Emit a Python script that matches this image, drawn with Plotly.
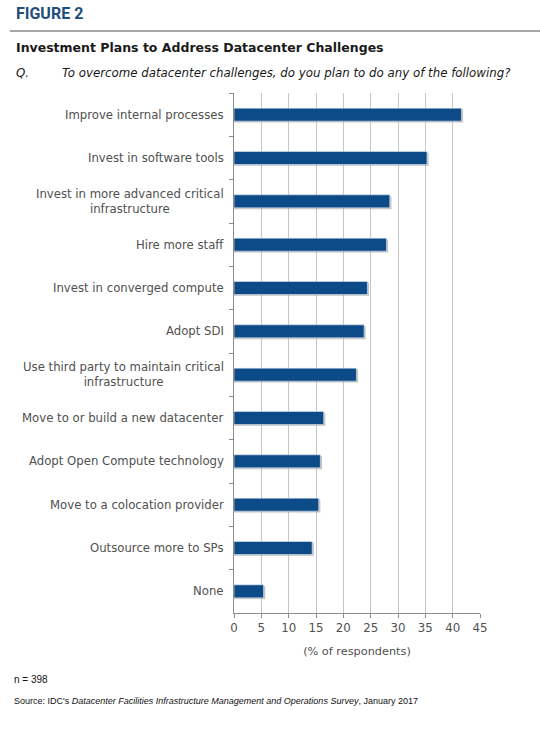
import plotly.graph_objects as go

categories = [
    "Improve internal processes",
    "Invest in software tools",
    "Invest in more advanced critical<br>infrastructure",
    "Hire more staff",
    "Invest in converged compute",
    "Adopt SDI",
    "Use third party to maintain critical<br>infrastructure",
    "Move to or build a new datacenter",
    "Adopt Open Compute technology",
    "Move to a colocation provider",
    "Outsource more to SPs",
    "None",
]
values = [41.6, 35.3, 28.5, 27.9, 24.4, 23.8, 22.4, 16.4, 15.8, 15.5, 14.3, 5.4]
x_ticks = [0, 5, 10, 15, 20, 25, 30, 35, 40, 45]

BLUE = "#0c4a88"
GREY_TXT = "#505050"

fig = go.Figure()

# soft drop shadow under each bar
fig.add_trace(go.Bar(
    y=categories, x=[v + 0.3 for v in values], orientation="h",
    width=0.3, offset=-0.12,
    marker=dict(color="rgba(120,120,120,0.45)", line=dict(width=0)),
    hoverinfo="skip", showlegend=False,
))

fig.add_trace(go.Bar(
    y=categories, x=values, orientation="h",
    width=0.3, offset=-0.15,
    marker=dict(color=BLUE, line=dict(color="#dce6f2", width=0.6)),
    showlegend=False,
    hovertemplate="%{y}: %{x}%<extra></extra>",
))

# category labels as annotations so wrapped lines sit centred
for cat in categories:
    fig.add_annotation(
        xref="paper", yref="y", x=0, y=cat, text=cat,
        xanchor="right", yanchor="middle", align="center", xshift=-8,
        showarrow=False,
        font=dict(family="DejaVu Sans", size=11.7, color=GREY_TXT),
    )

fig.update_layout(
    width=540, height=729,
    paper_bgcolor="white", plot_bgcolor="white",
    barmode="overlay",
    margin=dict(l=234, r=60, t=93, b=116),
    font=dict(family="DejaVu Sans", color=GREY_TXT),
    xaxis=dict(
        range=[0, 45], tickvals=x_ticks, showgrid=True, gridcolor="#c6c6c6", gridwidth=1,
        showline=True, linecolor="#8c8c8c", linewidth=1,
        ticks="outside", ticklen=4, tickcolor="#8c8c8c",
        tickfont=dict(family="DejaVu Sans", size=11.8, color=GREY_TXT),
        title=dict(text="(% of respondents)", standoff=12,
                   font=dict(family="DejaVu Sans", size=11.3, color=GREY_TXT)),
        zeroline=False, fixedrange=True,
    ),
    yaxis=dict(
        autorange="reversed", showticklabels=False, showgrid=False,
        showline=True, linecolor="#8c8c8c", linewidth=1,
        ticks="outside", tickson="boundaries", ticklen=4, tickcolor="#8c8c8c",
        fixedrange=True,
    ),
)

# header and footer texts, placed in page pixels
header = [
    ("<b>FIGURE 2</b>", 14, 13, dict(family="Roboto", size=16, color="#1f4e79")),
    ("<b>Investment Plans to Address Datacenter Challenges</b>", 14, 47,
     dict(family="DejaVu Sans", size=12.5, color="#1a1a1a")),
    ("<i>Q.</i>", 14, 73, dict(family="DejaVu Sans", size=11.8, color="#1a1a1a")),
    ("<i>To overcome datacenter challenges, do you plan to do any of the following?</i>", 60, 73,
     dict(family="DejaVu Sans", size=11.8, color="#1a1a1a")),
    ("n = 398", 12, 679, dict(family="Liberation Sans", size=10, color="#111111")),
    ("Source: IDC's <i>Datacenter Facilities Infrastructure Management and Operations Survey</i>, January 2017",
     12, 701, dict(family="Liberation Sans", size=9, color="#111111")),
]
for text, px, py, fnt in header:
    fig.add_annotation(
        xref="paper", yref="paper",
        x=(px - 234) / 246, y=1 - (py - 93) / 520,
        text=text, xanchor="left", yanchor="middle", showarrow=False, font=fnt,
    )

# rule under the figure label
fig.add_shape(type="line", xref="paper", yref="paper",
              x0=(10 - 234) / 246, x1=(540 - 234) / 246,
              y0=1 - (31 - 93) / 520, y1=1 - (31 - 93) / 520,
              line=dict(color="#a6a6a6", width=2))

fig.write_html("out.html", config={"displayModeBar": False},
               post_script="document.body.style.margin='0';")
